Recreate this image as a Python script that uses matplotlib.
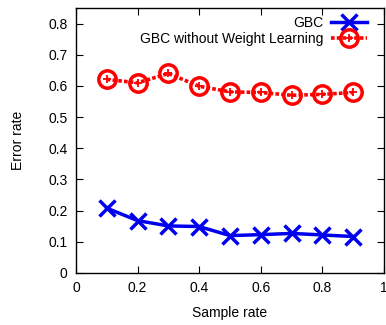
import matplotlib
matplotlib.use("Agg")
import matplotlib.pyplot as plt
from matplotlib.legend_handler import HandlerTuple

plt.rcParams['font.family'] = ['Liberation Sans', 'DejaVu Sans']

sample_rate = [0.1, 0.2, 0.3, 0.4, 0.5, 0.6, 0.7, 0.8, 0.9]
gbc = [0.208, 0.168, 0.151, 0.149, 0.120, 0.123, 0.127, 0.122, 0.117]
gbc_no_wl = [0.621, 0.610, 0.640, 0.599, 0.581, 0.579, 0.570, 0.573, 0.579]
xticks = [0, 0.2, 0.4, 0.6, 0.8, 1]
xticklabels = ['0', '0.2', '0.4', '0.6', '0.8', '1']
yticks = [0, 0.1, 0.2, 0.3, 0.4, 0.5, 0.6, 0.7, 0.8]
yticklabels = ['0', '0.1', '0.2', '0.3', '0.4', '0.5', '0.6', '0.7', '0.8']

fig = plt.figure(figsize=(3.86, 3.25), dpi=100)
ax = fig.add_axes([76/386, 1 - 273/325, (384 - 76)/386, (273 - 8)/325])

h1, = ax.plot(sample_rate, gbc, color='#0000ee', lw=2.5, marker='x', ms=12, mew=2.5)
h2, = ax.plot(sample_rate, gbc_no_wl, color='#ff0000', lw=2.6, ls=(0, (1, 0.6)),
              marker='o', ms=12.5, mew=2.5, mfc='none')
h3, = ax.plot(sample_rate, gbc_no_wl, color='#ff0000', lw=0, marker='+',
              ms=6, mew=1.3)

ax.set_xlim(0, 1)
ax.set_ylim(0, 0.85)
ax.set_xticks(xticks)
ax.set_xticklabels(xticklabels)
ax.set_yticks(yticks)
ax.set_yticklabels(yticklabels)
ax.tick_params(direction='in', top=True, right=True, length=5, width=0.8,
               labelsize=10, colors='black', pad=6)
for s in ax.spines.values():
    s.set_linewidth(1.0)

ax.set_xlabel('Sample rate', fontsize=10, labelpad=8)
ax.set_ylabel('Error rate', fontsize=10, labelpad=17)

ax.legend([h1, (h2, h3)], ['GBC', 'GBC without Weight Learning'],
          handler_map={tuple: HandlerTuple(ndivide=1, pad=0)},
          loc='upper right', frameon=False, markerfirst=False, fontsize=10,
          handlelength=2.6, handletextpad=0.5, labelspacing=0.1,
          borderaxespad=0.2, bbox_to_anchor=(1 - 9/308, 1.0))

fig.savefig('out.png', dpi=100)
